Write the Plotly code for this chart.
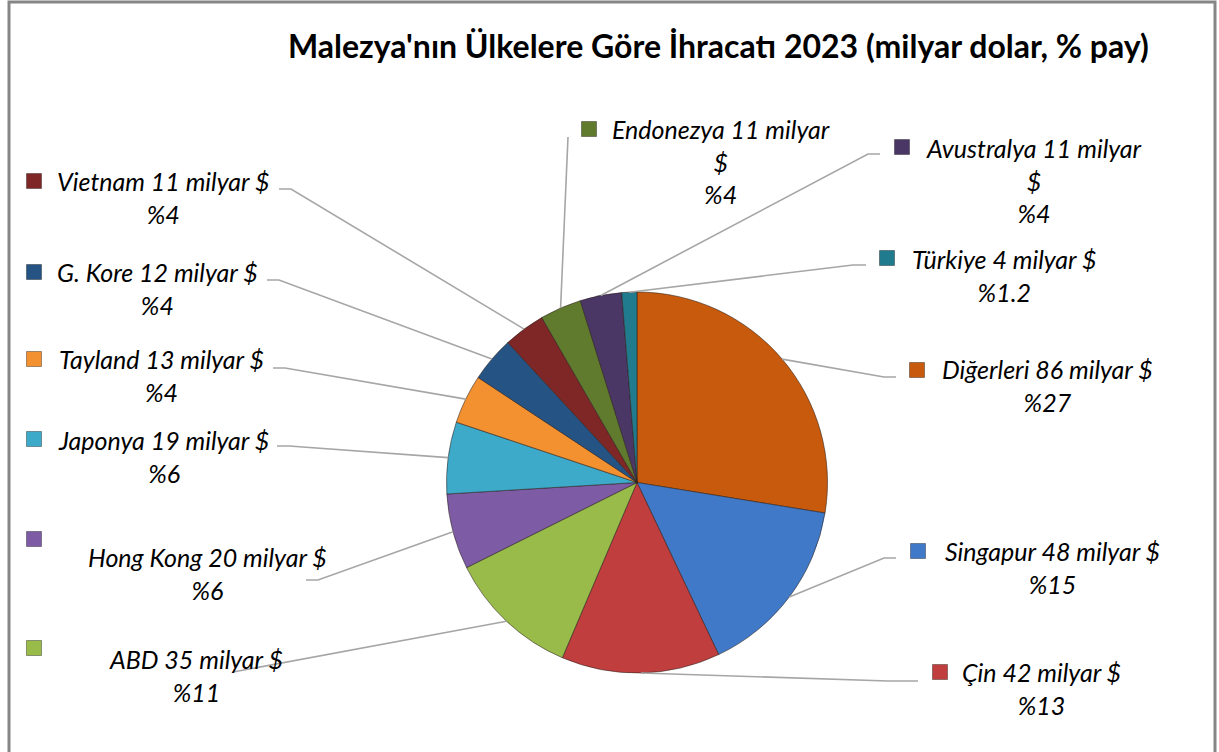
import math
import plotly.graph_objects as go

# ---------------- data ----------------
countries = ["Diğerleri", "Singapur", "Çin", "ABD", "Hong Kong", "Japonya",
             "Tayland", "G. Kore", "Vietnam", "Endonezya", "Avustralya", "Türkiye"]
values_bn = [86, 48, 42, 35, 20, 19, 13, 12, 11, 11, 11, 4]
shares_pct = ["27", "15", "13", "11", "6", "6", "4", "4", "4", "4", "4", "1.2"]
title_text = "Malezya'nın Ülkelere Göre İhracatı 2023 (milyar dolar, % pay)"

# ---------------- style ----------------
colors = ["#C75A0C", "#4079C8", "#C03E3D", "#98BB4A", "#7D5CA5", "#3DAAC9",
          "#F39130", "#255383", "#7E2726", "#607A2E", "#4B3766", "#217B8F"]

W, H = 1219, 752
CX, CY, R = 637, 482.5, 190.5

# label layout: text centre (x, y), marker centre, leader start, elbow length (px, sign = direction)
label_layout = {
    "Diğerleri":  dict(tx=1047, ty=385, mx=917, my=370, lx=896, ly=377, elbow=-12),
    "Singapur":   dict(tx=1052, ty=567, mx=918, my=551, lx=896, ly=558, elbow=-12),
    "Çin":        dict(tx=1041, ty=688, mx=940, my=672, lx=918, ly=681, elbow=-30),
    "ABD":        dict(tx=196, ty=675, mx=34, my=648, lx=233, ly=672, elbow=0),
    "Hong Kong":  dict(tx=207, ty=573, mx=34, my=539, lx=306, ly=580, elbow=12),
    "Japonya":    dict(tx=163, ty=456, mx=34, my=439, lx=277, ly=446, elbow=12),
    "Tayland":    dict(tx=161, ty=375, mx=34, my=359, lx=273, ly=368, elbow=12),
    "G. Kore":    dict(tx=157, ty=288, mx=34, my=272, lx=267, ly=280, elbow=12),
    "Vietnam":    dict(tx=163, ty=197, mx=34, my=181, lx=279, ly=189, elbow=12),
    "Endonezya":  dict(tx=721, ty=161, mx=589, my=129, lx=568, ly=137, elbow=0),
    "Avustralya": dict(tx=1034, ty=180, mx=902, my=147, lx=880, ly=154, elbow=-12),
    "Türkiye":    dict(tx=1004, ty=275, mx=887, my=258, lx=866, ly=265, elbow=-13),
}

def label_text(name, val, share):
    if name in ("Endonezya", "Avustralya"):
        return f"{name} {val} milyar<br>$<br>%{share}"
    return f"{name} {val} milyar $<br>%{share}"

fig = go.Figure()

fig.add_trace(go.Pie(
    labels=countries,
    values=values_bn,
    sort=False,
    direction="clockwise",
    rotation=0,
    textinfo="none",
    hoverinfo="label+value+percent",
    marker=dict(colors=colors, line=dict(color="rgba(40,30,25,0.55)", width=1)),
    domain=dict(x=[(CX - R) / W, (CX + R) / W], y=[1 - (CY + R) / H, 1 - (CY - R) / H]),
    showlegend=False,
))

# dummy trace to set up pixel-like axes
fig.add_trace(go.Scatter(x=[0, W], y=[0, H], mode="markers",
                         marker=dict(opacity=0), hoverinfo="skip", showlegend=False))

shapes = []
annotations = []
total = sum(values_bn)
cum = 0.0
for name, val, share, col in zip(countries, values_bn, shares_pct, colors):
    mid = (cum + val / 2) / total
    cum += val
    ang = 2 * math.pi * mid
    px = CX + R * math.sin(ang)
    py = CY - R * math.cos(ang)
    L = label_layout[name]
    ex = L["lx"] + L["elbow"]
    path = f"M {L['lx']},{L['ly']} L {ex},{L['ly']} L {px:.1f},{py:.1f}"
    shapes.append(dict(type="path", path=path, xref="x", yref="y",
                       line=dict(color="#A6A6A6", width=1.6), layer="above"))
    s = 7.5
    shapes.append(dict(type="rect", xref="x", yref="y",
                       x0=L["mx"] - s, x1=L["mx"] + s, y0=L["my"] - s, y1=L["my"] + s,
                       fillcolor=col, line=dict(color="rgba(0,0,0,0.35)", width=1)))
    annotations.append(dict(
        x=L["tx"], y=L["ty"], xref="x", yref="y", showarrow=False,
        text=label_text(name, val, share), align="center",
        xanchor="center", yanchor="middle",
        font=dict(family="Lato, 'Open Sans', sans-serif", size=25, color="#000000", style="italic"),
    ))

annotations.append(dict(
    x=718, y=45, xref="x", yref="y", showarrow=False, text=f"<b>{title_text}</b>",
    xanchor="center", yanchor="middle",
    font=dict(family="Lato, 'Open Sans', sans-serif", size=32, color="#000000"),
))

# chart border
shapes.append(dict(type="rect", xref="x", yref="y", x0=9, x1=1215, y0=2, y1=770,
                   line=dict(color="#868686", width=3), fillcolor="rgba(0,0,0,0)"))

fig.update_layout(
    width=W, height=H,
    margin=dict(l=0, r=0, t=0, b=0),
    paper_bgcolor="#FFFFFF", plot_bgcolor="rgba(0,0,0,0)",
    xaxis=dict(range=[0, W], visible=False, fixedrange=True),
    yaxis=dict(range=[H, 0], visible=False, fixedrange=True),
    shapes=shapes, annotations=annotations,
)

fig.write_html(
    "out.html",
    config={"displayModeBar": False},
    post_script="document.body.style.margin='0';document.body.style.overflow='hidden';",
)
